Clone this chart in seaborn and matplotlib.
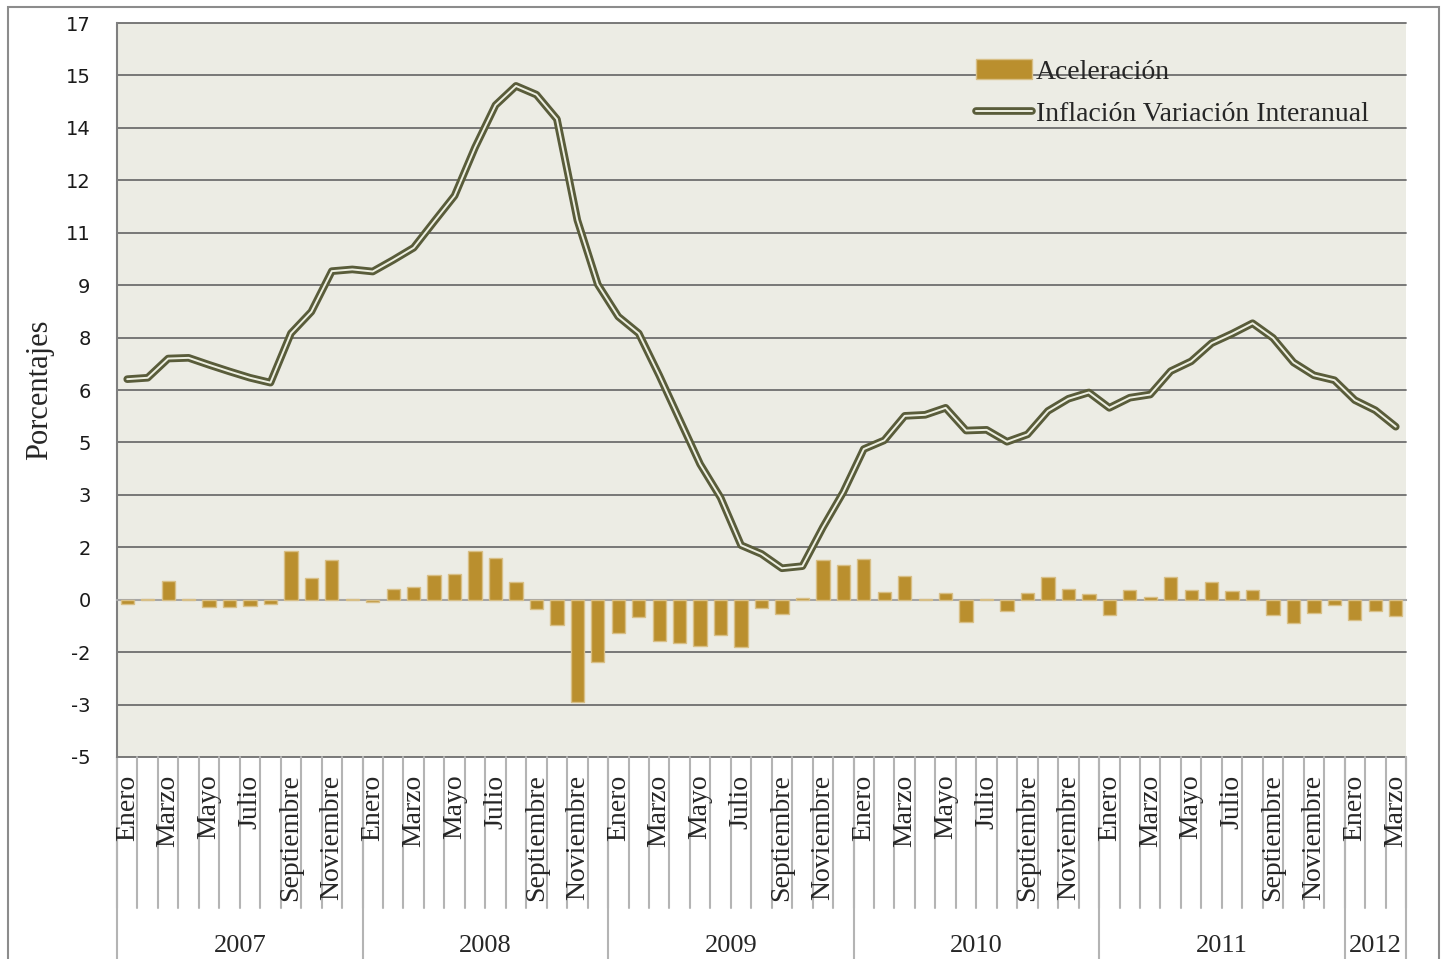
import matplotlib.pyplot as plt
import matplotlib.patheffects as pe
import matplotlib.transforms as mtrans
from matplotlib.patches import Rectangle
from matplotlib.ticker import FuncFormatter
import numpy as np
import pandas as pd
import seaborn as sns

# datos mensuales, enero 2007 - marzo 2012
meses = ["Enero", "Febrero", "Marzo", "Abril", "Mayo", "Junio", "Julio",
         "Agosto", "Septiembre", "Octubre", "Noviembre", "Diciembre"]
anios = ["2007", "2008", "2009", "2010", "2011", "2012"]
meses_por_anio = [12, 12, 12, 12, 12, 3]

aceleracion = [
    -0.11, 0.03, 0.54, 0.01, -0.22, -0.21, -0.18, -0.13, 1.39, 0.62, 1.14, 0.02,
    -0.07, 0.30, 0.36, 0.72, 0.74, 1.38, 1.18, 0.52, -0.27, -0.72, -2.93, -1.79,
    -0.94, -0.50, -1.18, -1.24, -1.32, -1.01, -1.35, -0.25, -0.42, 0.05, 1.13, 0.99,
    1.16, 0.23, 0.67, 0.01, 0.19, -0.65, 0.03, -0.33, 0.20, 0.64, 0.31, 0.17,
    -0.45, 0.29, 0.08, 0.65, 0.27, 0.51, 0.26, 0.29, -0.45, -0.68, -0.38, -0.15,
    -0.57, -0.31, -0.47,
]

inflacion = [
    6.31, 6.35, 6.90, 6.92, 6.72, 6.53, 6.35, 6.21, 7.62, 8.24, 9.40, 9.45,
    9.39, 9.72, 10.07, 10.82, 11.56, 12.94, 14.15, 14.70, 14.45, 13.75, 10.86, 9.02,
    8.10, 7.62, 6.42, 5.15, 3.88, 2.92, 1.56, 1.31, 0.90, 0.96, 2.07, 3.08,
    4.31, 4.56, 5.26, 5.29, 5.49, 4.84, 4.86, 4.52, 4.73, 5.40, 5.75, 5.93,
    5.49, 5.78, 5.87, 6.54, 6.82, 7.34, 7.61, 7.91, 7.49, 6.79, 6.42, 6.28,
    5.71, 5.42, 4.95,
]

sns.set_style("white")
plt.rcParams["font.family"] = ["Liberation Serif", "DejaVu Serif"]

n = len(inflacion)
df = pd.DataFrame({
    "pos": np.arange(n),
    "aceleracion": aceleracion,
    "inflacion": inflacion,
})

W, H = 1441, 959
fig = plt.figure(figsize=(W / 100, H / 100), dpi=100)
ax = fig.add_axes([117 / W, 1 - 757 / H, 1289 / W, 734 / H])
ax.set_facecolor("#ecece4")

grid_col = "#6e6e6e"
sep_col = "#b4b4b4"

sns.barplot(data=df, x="pos", y="aceleracion", native_scale=True, width=0.65,
            color="#ba8f2e", saturation=1, edgecolor="#d8bf86", linewidth=1,
            errorbar=None, label="Aceleración", ax=ax, zorder=3)
sns.lineplot(data=df, x="pos", y="inflacion", color="#eef0e2", lw=1.4,
             label="Inflación Variación Interanual", ax=ax, zorder=4,
             solid_capstyle="round", solid_joinstyle="round",
             path_effects=[pe.Stroke(linewidth=5.5, foreground="#595c3a"),
                           pe.Normal()])

# ejes
ax.set_xlim(-0.5, n - 0.5)
ax.set_ylim(-4.5, 16.5)
ax.set_yticks(np.arange(-4.5, 16.6, 1.5))


def redondeo(v, pos):
    r = int(np.floor(abs(v) + 0.5))
    return f"-{r}" if v < 0 and r else f"{r}"


ax.yaxis.set_major_formatter(FuncFormatter(redondeo))
ax.yaxis.grid(True, color=grid_col, lw=1.3)
for gl in ax.get_ygridlines():
    gl.set_clip_on(False)
ax.set_axisbelow(True)
ax.tick_params(axis="y", length=8, width=1.2, color="#7f7f7f", pad=11,
               labelsize=14, labelfontfamily="DejaVu Sans", labelcolor="#1a1a1a")

ax.set_xticks(np.arange(-0.5, n, 1))
ax.tick_params(axis="x", length=6, width=1.5, color=sep_col, labelbottom=False)
ax.spines["bottom"].set_position(("data", 0))
ax.spines["bottom"].set_color("#a6a6a6")
ax.spines["bottom"].set_linewidth(1.5)
ax.spines["left"].set_color("#7f7f7f")
ax.spines["left"].set_linewidth(1.5)
ax.spines["top"].set_visible(False)
ax.spines["right"].set_visible(False)
ax.set_xlabel("")
ax.set_ylabel("")

# etiquetas de categorias (mes / anio)
tr = mtrans.blended_transform_factory(ax.transData, ax.transAxes)
for i in range(0, n, 2):
    ax.text(i, -0.024, meses[i % 12], rotation=90, ha="center", va="top",
            fontsize=20, transform=tr, clip_on=False)
for b in np.arange(-0.5, n, 1):
    ax.plot([b, b], [0, -0.206], transform=tr, clip_on=False, color=sep_col, lw=1.5)
limites = np.concatenate([[0], np.cumsum(meses_por_anio)]) - 0.5
for k, anio in enumerate(anios):
    ax.plot([limites[k], limites[k]], [0, -0.3], transform=tr, clip_on=False,
            color=sep_col, lw=1.5)
    ax.text((limites[k] + limites[k + 1]) / 2, -0.258, anio, ha="center",
            va="center", fontsize=19, transform=tr, clip_on=False)
ax.plot([limites[-1], limites[-1]], [0, -0.3], transform=tr, clip_on=False,
        color=sep_col, lw=1.5)

fig.text(40 / W, 1 - 390 / H, "Porcentajes", rotation=90, ha="center",
         va="center", fontsize=22)

# leyenda
h, l = ax.get_legend_handles_labels()
orden = ["Aceleración", "Inflación Variación Interanual"]
hs = [h[l.index(o)] for o in orden]
ax.legend(hs, orden, loc="upper left", bbox_to_anchor=(0.658, 0.966),
          frameon=False, fontsize=20, handlelength=2.0, handletextpad=0.15,
          labelspacing=0.62, borderaxespad=0)

fig.patches.append(Rectangle((8 / W, -0.1), (1439 - 8) / W, 1 - 7 / H + 0.1,
                             transform=fig.transFigure, fill=False,
                             edgecolor="#8c8c8c", lw=1.5))

fig.savefig("out.png", dpi=100)
